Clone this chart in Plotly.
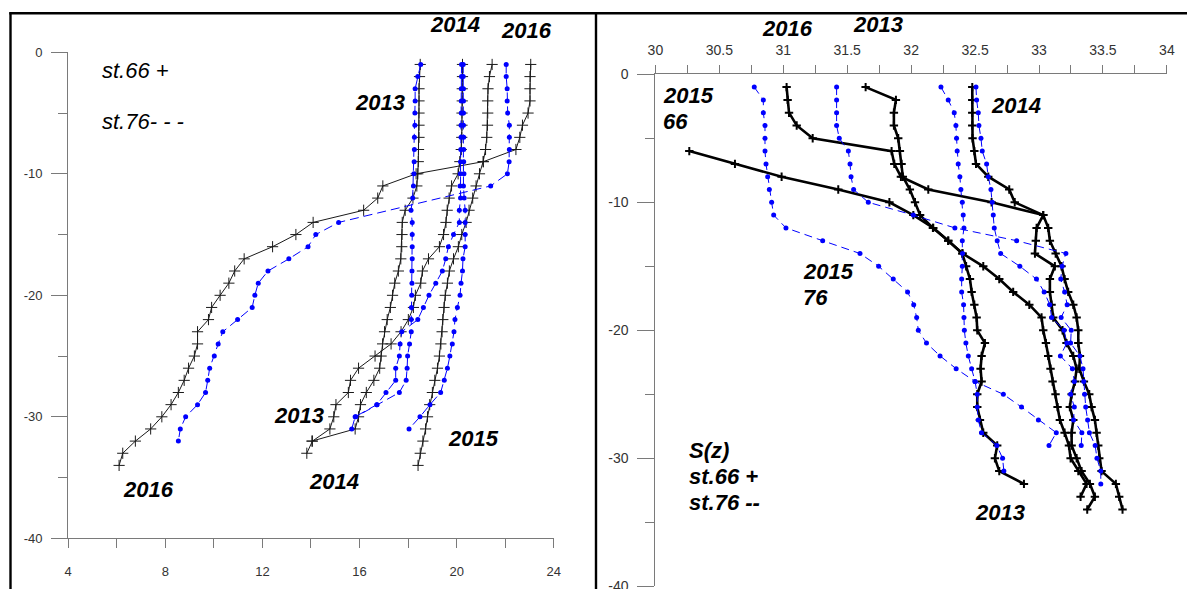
import plotly.graph_objects as go

W, H = 1187, 589

# ---------------- T(z): temperature profiles ----------------
depth_t66_2013 = list(range(1, 33))
temp_66_2013 = [18.50, 18.47, 18.45, 18.45, 18.45, 18.45, 18.45, 18.43, 18.42, 18.40,
                18.36, 18.20, 17.88, 17.76, 17.75, 17.74, 17.70, 17.60, 17.45, 17.36,
                17.27, 17.14, 17.03, 16.95, 16.89, 16.83, 16.59, 16.28, 16.04, 15.96,
                15.82, 14.04]

depth_t66_2014 = list(range(1, 34))
temp_66_2014 = [20.24, 20.24, 20.23, 20.23, 20.22, 20.22, 20.21, 20.19, 20.13, 20.06,
                19.79, 19.69, 19.61, 19.56, 19.46, 19.29, 18.84, 18.59, 18.52, 18.30,
                18.22, 18.01, 17.71, 17.30, 16.64, 15.96, 15.63, 15.54, 15.03, 14.94,
                14.78, 14.06, 13.83]

depth_t66_2015 = list(range(1, 35))
temp_66_2015 = [21.46, 21.35, 21.29, 21.28, 21.28, 21.27, 21.24, 21.19, 21.09, 20.94,
                20.80, 20.66, 20.51, 20.39, 20.21, 20.07, 19.87, 19.70, 19.62, 19.53,
                19.48, 19.43, 19.40, 19.35, 19.29, 19.21, 19.10, 19.00, 18.89, 18.80,
                18.72, 18.61, 18.50, 18.41]

depth_t66_2016 = list(range(1, 35))
temp_66_2016 = [23.05, 23.02, 23.02, 23.02, 22.94, 22.71, 22.60, 22.44, 21.10, 18.33,
                16.96, 16.75, 16.17, 14.09, 13.38, 12.42, 11.25, 10.86, 10.62, 10.26,
                9.91, 9.78, 9.33, 9.33, 9.20, 8.96, 8.78, 8.54, 8.24, 7.86,
                7.40, 6.77, 6.25, 6.10]

depth_t76_2013 = list(range(1, 31))
temp_76_2013 = [18.52, 18.40, 18.29, 18.29, 18.28, 18.28, 18.26, 18.26, 18.25, 18.24,
                18.22, 18.19, 18.12, 18.17, 18.17, 18.17, 18.17, 18.16, 18.16, 18.15,
                18.14, 18.13, 18.13, 18.06, 17.98, 17.96, 17.92, 17.64, 16.72, 15.85]

depth_t76_2014 = list(range(1, 32))
temp_76_2014 = [20.20, 20.20, 20.19, 20.19, 20.19, 20.18, 20.18, 20.17, 20.16, 20.15,
                20.14, 20.16, 20.11, 20.11, 19.87, 19.66, 19.55, 19.41, 19.14, 18.86,
                18.63, 18.40, 17.74, 17.67, 17.64, 17.49, 17.49, 17.09, 16.71, 15.82,
                15.68]

depth_t76_2015 = list(range(1, 32))
temp_76_2015 = [20.27, 20.27, 20.28, 20.28, 20.28, 20.28, 20.29, 20.29, 20.29, 20.30,
                20.28, 20.31, 20.35, 20.35, 20.35, 20.35, 20.26, 20.24, 20.18, 20.14,
                20.03, 19.93, 19.89, 19.82, 19.72, 19.62, 19.49, 19.34, 18.90, 18.49,
                18.04]

depth_t76_2016 = list(range(1, 12)) + list(range(14, 33))
temp_76_2016 = [22.04, 22.04, 22.08, 22.08, 22.10, 22.17, 22.17, 22.17, 22.16, 22.09,
                21.40,
                15.14, 14.20, 13.88, 13.09, 12.23, 11.83, 11.69, 11.58, 10.98, 10.37,
                10.18, 10.02, 9.83, 9.75, 9.66, 9.33, 8.84, 8.62, 8.54]

# ---------------- S(z): salinity profiles ----------------
depth_s66_2013 = list(range(1, 33))
sal_66_2013 = [31.644, 31.881, 31.865, 31.865, 31.899, 31.912, 31.925, 31.935, 31.990, 32.030,
               32.070, 32.170, 32.290, 32.400, 32.430, 32.460, 32.473, 32.494, 32.512, 32.517,
               32.577, 32.551, 32.543, 32.551, 32.517, 32.517, 32.538, 32.564, 32.673, 32.655,
               32.689, 32.882]

depth_s66_2014 = list(range(1, 35))
sal_66_2014 = [32.478, 32.478, 32.478, 32.478, 32.480, 32.494, 32.507, 32.603, 32.767, 32.810,
               33.033, 33.072, 33.085, 33.130, 33.176, 33.200, 33.228, 33.268, 33.294, 33.307,
               33.307, 33.320, 33.315, 33.351, 33.393, 33.411, 33.437, 33.450, 33.463, 33.471,
               33.489, 33.601, 33.627, 33.653]

depth_s66_2015 = list(range(6, 34))
sal_66_2015 = [30.265, 30.622, 30.987, 31.430, 31.830, 32.017, 32.173, 32.290, 32.402, 32.564,
               32.689, 32.798, 32.924, 33.020, 33.033, 33.054, 33.072, 33.090, 33.106, 33.129,
               33.145, 33.163, 33.200, 33.234, 33.247, 33.307, 33.372, 33.325]

depth_s66_2016 = list(range(1, 35))
sal_66_2016 = [31.026, 31.034, 31.045, 31.105, 31.230, 31.847, 31.868, 31.920, 32.134, 32.629,
               33.033, 32.981, 32.975, 32.968, 33.124, 33.085, 33.085, 33.098, 33.111, 33.184,
               33.215, 33.268, 33.294, 33.281, 33.255, 33.241, 33.268, 33.255, 33.255, 33.294,
               33.333, 33.398, 33.437, 33.377]

depth_s76_2013 = list(range(1, 32))
sal_76_2013 = [32.233, 32.290, 32.337, 32.350, 32.355, 32.360, 32.368, 32.381, 32.389, 32.400,
               32.407, 32.413, 32.400, 32.402, 32.400, 32.395, 32.395, 32.410, 32.413, 32.416,
               32.428, 32.447, 32.473, 32.500, 32.517, 32.517, 32.525, 32.550, 32.670, 32.715,
               32.725]

depth_s76_2014 = list(range(1, 30))
sal_76_2014 = [32.507, 32.512, 32.525, 32.530, 32.546, 32.556, 32.590, 32.603, 32.624, 32.634,
               32.642, 32.650, 32.673, 32.700, 32.850, 32.980, 33.040, 33.084, 33.099, 33.196,
               33.217, 33.167, 33.261, 33.276, 33.247, 33.276, 33.270, 33.335, 33.330]

depth_s76_2015 = list(range(1, 30))
sal_76_2015 = [30.773, 30.844, 30.844, 30.857, 30.857, 30.857, 30.865, 30.878, 30.891, 30.909,
               30.925, 31.021, 31.308, 31.600, 31.746, 31.860, 31.972, 32.020, 32.043, 32.056,
               32.120, 32.226, 32.352, 32.499, 32.721, 32.863, 32.995, 33.135, 33.078]

depth_s76_2016 = list(range(1, 33))
sal_76_2016 = [31.417, 31.417, 31.417, 31.417, 31.438, 31.509, 31.522, 31.530, 31.550, 31.665,
               32.017, 32.342, 32.825, 33.210, 33.180, 33.170, 33.200, 33.220, 33.173, 33.252,
               33.247, 33.320, 33.344, 33.350, 33.356, 33.365, 33.380, 33.394, 33.439, 33.453,
               33.483, 33.483]

# axis ticks
t_ticks = [4, 8, 12, 16, 20, 24]
t_minor = [6, 10, 14, 18, 22]
s_ticks = [30, 30.5, 31, 31.5, 32, 32.5, 33, 33.5, 34]
s_ticktext = ["30", "30.5", "31", "31.5", "32", "32.5", "33", "33.5", "34"]
s_minor = [30.25, 30.75, 31.25, 31.75, 32.25, 32.75, 33.25, 33.75]
z_ticks = [0, -10, -20, -30, -40]
z_ticktext = ["0", "-10", "-20", "-30", "-40"]
z_minor = [-5, -15, -25, -35]

BLUE = "#0000ff"
FONT = "Liberation Sans, Arial, sans-serif"

fig = go.Figure()


def st66(vals, depths, xa, ya, width, mwidth, color, size):
    fig.add_trace(go.Scatter(
        x=vals, y=[-d for d in depths], xaxis=xa, yaxis=ya,
        mode="lines+markers", showlegend=False, hoverinfo="skip",
        line=dict(color=color, width=width),
        marker=dict(symbol="cross-thin", size=size, color=color,
                    line=dict(width=mwidth, color=color)),
    ))


def st76(vals, depths, xa, ya, dash):
    fig.add_trace(go.Scatter(
        x=vals, y=[-d for d in depths], xaxis=xa, yaxis=ya,
        mode="lines+markers", showlegend=False, hoverinfo="skip",
        line=dict(color=BLUE, width=1, dash=dash),
        marker=dict(symbol="circle", size=5, color=BLUE),
    ))


# left panel: temperature
for v, d in [(temp_66_2013, depth_t66_2013), (temp_66_2014, depth_t66_2014),
             (temp_66_2015, depth_t66_2015), (temp_66_2016, depth_t66_2016)]:
    st66(v, d, "x", "y", 1, 1, "#1a1a1a", 8)
for v, d in [(temp_76_2013, depth_t76_2013), (temp_76_2014, depth_t76_2014),
             (temp_76_2015, depth_t76_2015), (temp_76_2016, depth_t76_2016)]:
    st76(v, d, "x", "y", "9px,5px")

# right panel: salinity
for v, d in [(sal_66_2013, depth_s66_2013), (sal_66_2014, depth_s66_2014),
             (sal_66_2015, depth_s66_2015), (sal_66_2016, depth_s66_2016)]:
    st66(v, d, "x2", "y2", 2.6, 2, "#000000", 6)
for v, d in [(sal_76_2013, depth_s76_2013), (sal_76_2014, depth_s76_2014),
             (sal_76_2015, depth_s76_2015), (sal_76_2016, depth_s76_2016)]:
    st76(v, d, "x2", "y2", "8px,5px")

tickfont = dict(family=FONT, size=13, color="#333333")
axcol = "#7a7a7a"

common = dict(showline=True, linecolor=axcol, linewidth=1, showgrid=False,
              zeroline=False, automargin=False, tickmode="array", ticks="outside",
              tickcolor=axcol, ticklabeloverflow="allow")

fig.update_layout(
    width=W, height=H, autosize=False,
    margin=dict(l=0, r=0, t=0, b=0, pad=0),
    paper_bgcolor="white", plot_bgcolor="white",
    xaxis=dict(common, domain=[68.1 / W, 553.8 / W], range=[4, 24], anchor="y",
               tickvals=t_ticks, ticktext=[str(t) for t in t_ticks],
               ticklen=9, tickfont=tickfont, ticklabelstandoff=12,
               minor=dict(tickmode="array", tickvals=t_minor, ticks="outside",
                          ticklen=9, tickcolor=axcol)),
    yaxis=dict(common, domain=[1 - 538.3 / H, 1 - 52.3 / H], range=[-40, 0], anchor="x",
               tickvals=z_ticks, ticktext=z_ticktext,
               ticklen=16, tickfont=tickfont, ticklabelstandoff=6,
               minor=dict(tickmode="array", tickvals=z_minor, ticks="outside",
                          ticklen=9, tickcolor=axcol)),
    xaxis2=dict(common, domain=[655.4 / W, 1166.9 / W], range=[30, 34], anchor="y2",
                side="top", tickvals=s_ticks, ticktext=s_ticktext,
                ticklen=8, tickfont=dict(tickfont, size=14), ticklabelstandoff=5,
                minor=dict(tickmode="array", tickvals=s_minor, ticks="outside",
                           ticklen=8, tickcolor=axcol)),
    yaxis2=dict(common, domain=[1 - 586.3 / H, 1 - 74.3 / H], range=[-40, 0], anchor="x2",
                tickvals=z_ticks, ticktext=z_ticktext,
                ticklen=17, tickfont=dict(tickfont, size=14), ticklabelstandoff=6,
                minor=dict(tickmode="array", tickvals=z_minor, ticks="outside",
                           ticklen=9, tickcolor=axcol)),
)

# panel frames
frame = dict(type="line", xref="paper", yref="paper", line=dict(color="black", width=2.4))
fig.add_shape(frame, x0=10.5 / W, x1=10.5 / W, y0=0, y1=1 - 12.3 / H)
fig.add_shape(frame, x0=9.3 / W, x1=1.0, y0=1 - 13.3 / H, y1=1 - 13.3 / H)
fig.add_shape(frame, x0=596 / W, x1=596 / W, y0=0, y1=1 - 12.3 / H)

bold = dict(family=FONT, size=22, color="black", weight="bold", style="italic")
plain = dict(family=FONT, size=22, color="black", style="italic")


def label(text, x, y, font=bold, anchor="center"):
    # x, y given in page pixels measured from the top-left corner
    fig.add_annotation(text=text, x=x / W, y=1 - y / H, xref="paper", yref="paper",
                       showarrow=False, xanchor=anchor, yanchor="middle", font=font)


# temperature panel labels
label("st.66 +", 100, 70, plain, "left")
label("st.76- - -", 100, 122, plain, "left")
label("2014", 455, 24)
label("2016", 526, 31)
label("2013", 380, 103)
label("2016", 149, 489)
label("2013", 299, 415)
label("2014", 334, 481)
label("2015", 473, 438)

# salinity panel labels
label("2016", 787, 28)
label("2013", 878, 25)
label("2015", 661, 96, bold, "left")
label("66", 661, 122, bold, "left")
label("2014", 1016, 105)
label("2015", 801, 272, bold, "left")
label("76", 801, 297, bold, "left")
label("S(z)", 687, 450, bold, "left")
label("st.66 +", 687, 476, bold, "left")
label("st.76 --", 687, 502, bold, "left")
label("2013", 1000, 512)

fig.write_html("out.html")
